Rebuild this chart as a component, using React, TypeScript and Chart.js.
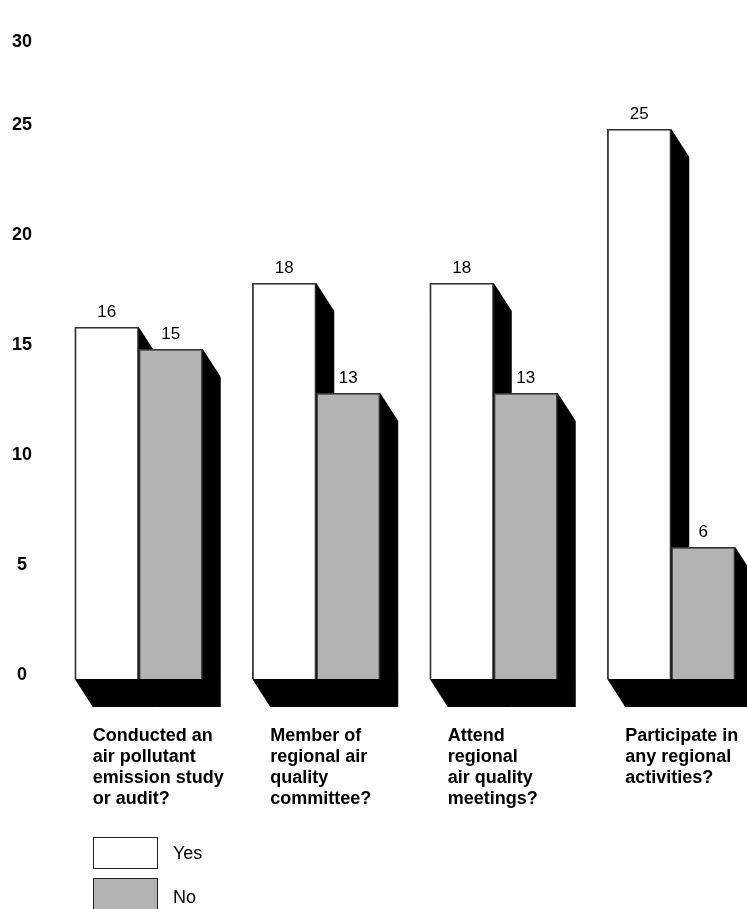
import React, { useEffect, useRef } from "react";
import { Chart, registerables } from "chart.js";

Chart.register(...registerables);

const categories: string[][] = [
  ["Conducted an", "air pollutant", "emission study", "or audit?"],
  ["Member of", "regional air", "quality", "committee?"],
  ["Attend", "regional", "air quality", "meetings?"],
  ["Participate in", "any regional", "activities?"],
];
const yesValues = [16, 18, 18, 25];
const noValues = [15, 13, 13, 6];
const seriesNames = ["Yes", "No"];
const yTicks = [0, 5, 10, 15, 20, 25, 30];

const FONT = "'Liberation Sans', Arial, Helvetica, sans-serif";
const DX = 18;
const DY = 28;

const shadowPlugin = {
  id: "shadow3d",
  beforeDatasetsDraw(chart: any) {
    const ctx = chart.ctx;
    ctx.save();
    ctx.fillStyle = "#000";
    chart.data.datasets.forEach((_: any, di: number) => {
      const meta = chart.getDatasetMeta(di);
      meta.data.forEach((bar: any) => {
        const { x, y, base, width } = bar.getProps(["x", "y", "base", "width"], true);
        const L = x - width / 2;
        const R = x + width / 2;
        const T = Math.min(y, base);
        const B = Math.max(y, base);
        ctx.beginPath();
        ctx.moveTo(L, T);
        ctx.lineTo(R, T);
        ctx.lineTo(R + DX, T + DY);
        ctx.lineTo(R + DX, B + DY);
        ctx.lineTo(L + DX, B + DY);
        ctx.lineTo(L, B);
        ctx.closePath();
        ctx.fill();
      });
    });
    ctx.restore();
  },
  afterDatasetsDraw(chart: any) {
    const ctx = chart.ctx;
    ctx.save();
    ctx.fillStyle = "#000";
    ctx.font = `17px ${FONT}`;
    ctx.textAlign = "center";
    ctx.textBaseline = "middle";
    chart.data.datasets.forEach((ds: any, di: number) => {
      const meta = chart.getDatasetMeta(di);
      meta.data.forEach((bar: any, i: number) => {
        const { x, y } = bar.getProps(["x", "y"], true);
        ctx.fillText(String(ds.data[i]), x, y - 15);
      });
    });
    ctx.restore();
  },
};

export default function App() {
  const ref = useRef<HTMLCanvasElement>(null);
  useEffect(() => {
    if (!ref.current) return;
    const chart = new Chart(ref.current, {
      type: "bar",
      data: {
        labels: categories as any,
        datasets: [
          {
            label: seriesNames[0],
            data: yesValues,
            backgroundColor: "#ffffff",
            borderColor: "#333333",
            borderWidth: 1.5,
            barPercentage: 1,
            categoryPercentage: 0.721,
          },
          {
            label: seriesNames[1],
            data: noValues,
            backgroundColor: "#b3b3b3",
            borderColor: "#333333",
            borderWidth: 1.5,
            barPercentage: 1,
            categoryPercentage: 0.721,
          },
        ],
      },
      options: {
        responsive: false,
        animation: false,
        devicePixelRatio: 1,
        layout: { padding: { top: 11, left: 0, right: 18, bottom: 0 } },
        plugins: { legend: { display: false }, tooltip: { enabled: false } },
        scales: {
          x: {
            grid: { display: false },
            border: { display: false },
            afterFit: (s: any) => {
              s.height = 230;
              s.paddingLeft = 0;
              s.paddingRight = 0;
            },
            ticks: {
              autoSkip: false,
              maxRotation: 0,
              minRotation: 0,
              align: "start",
              labelOffset: -46,
              padding: 39,
              color: "#000",
              font: { family: FONT, size: 18, weight: "bold", lineHeight: 1.167 },
            },
          },
          y: {
            min: 0,
            max: 30,
            grid: { display: false },
            border: { display: false },
            afterFit: (s: any) => {
              s.width = 42;
              s.paddingTop = 0;
              s.paddingBottom = 0;
            },
            afterBuildTicks: (s: any) => {
              s.ticks = yTicks.map((v) => ({ value: v }));
            },
            ticks: {
              stepSize: 5,
              crossAlign: "center",
              padding: 10,
              labelOffset: -4,
              color: "#000",
              font: { family: FONT, size: 18, weight: "bold", lineHeight: 1.5 },
              callback: (v: any) => (v === 30 ? ["", "", String(v)] : String(v)),
            },
          },
        },
      },
      plugins: [shadowPlugin],
    });
    return () => chart.destroy();
  }, []);

  const boxStyle = (bg: string, top: number): React.CSSProperties => ({
    position: "absolute",
    left: 93,
    top,
    width: 63,
    height: 30,
    background: bg,
    border: "1px solid #222",
  });
  const textStyle = (top: number): React.CSSProperties => ({
    position: "absolute",
    left: 173,
    top,
    fontFamily: FONT,
    fontSize: 18,
    lineHeight: "20px",
    color: "#000",
  });

  return (
    <div
      style={{
        position: "fixed",
        left: 0,
        top: 0,
        width: 747,
        height: 909,
        overflow: "hidden",
        background: "#fff",
      }}
    >
      <canvas ref={ref} width={770} height={901} style={{ position: "absolute", left: 8, top: 8 }} />
      <div style={boxStyle("#ffffff", 837)} />
      <div style={textStyle(843)}>{seriesNames[0]}</div>
      <div style={boxStyle("#b3b3b3", 878)} />
      <div style={textStyle(887)}>{seriesNames[1]}</div>
    </div>
  );
}
